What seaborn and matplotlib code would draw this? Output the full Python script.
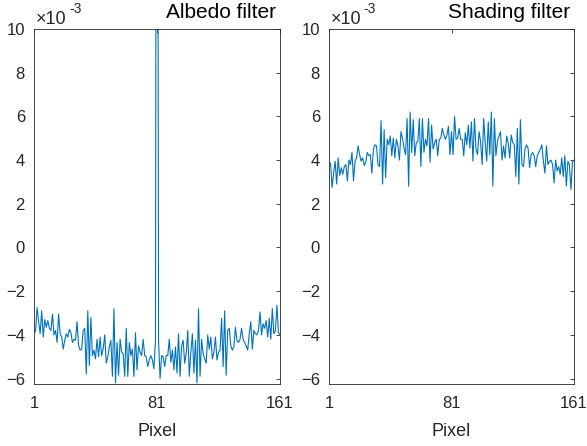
import numpy as np
import pandas as pd
import matplotlib
matplotlib.use("Agg")
import matplotlib.pyplot as plt
import seaborn as sns

# pixel index and filter values (x 1e-3)
pixel = np.arange(1, 162)

shading = [3.9, 3.85, 2.75, 3.4, 3.95, 2.9, 4.1, 3.3, 3.65, 3.35,
           3.7, 3.8, 3.05, 4.0, 3.8, 4.35, 3.05, 3.95, 4.1, 4.65,
           4.25, 3.95, 4.1, 3.75, 3.9, 4.35, 4.2, 4.25, 3.4, 4.5,
           4.7, 4.65, 3.8, 3.7, 5.8, 2.9, 5.4, 3.2, 4.95, 4.7,
           5.1, 4.2, 5.0, 4.1, 4.95, 4.65, 4.0, 5.3, 5.0, 4.55,
           4.25, 5.9, 2.8, 6.2, 4.35, 5.85, 4.2, 4.8, 4.85, 5.9,
           3.7, 5.9, 4.35, 4.95, 4.65, 5.9, 3.9, 5.6, 4.5, 4.8,
           4.95, 4.2, 4.95, 5.0, 5.45, 5.15, 4.95, 5.15, 5.55, 4.25,
           5.3, 4.25, 6.0, 4.95, 5.0, 5.45, 4.95, 4.95, 4.2, 5.25,
           4.7, 5.6, 4.55, 5.75, 3.95, 5.9, 4.5, 4.25, 5.3, 4.85,
           3.8, 5.9, 4.8, 3.95, 5.75, 4.25, 6.2, 2.8, 5.9, 4.2,
           4.85, 5.1, 5.3, 4.0, 4.65, 4.1, 5.1, 4.8, 4.1, 5.15,
           4.8, 4.7, 3.25, 5.45, 2.9, 5.85, 3.8, 3.7, 4.5, 4.7,
           4.55, 3.65, 4.25, 4.35, 4.2, 3.7, 4.2, 4.35, 4.5, 4.7,
           3.95, 3.4, 4.65, 3.8, 3.95, 4.0, 3.8, 2.95, 4.0, 3.5,
           3.7, 3.35, 4.1, 3.25, 4.2, 2.8, 3.95, 3.8, 2.65, 3.9, 4.0]

albedo = [-3.9, -3.85, -2.75, -3.4, -3.95, -2.9, -4.1, -3.3, -3.65, -3.35,
          -3.7, -3.8, -3.05, -4.0, -3.8, -4.35, -3.05, -3.95, -4.1, -4.65,
          -4.25, -3.95, -4.1, -3.75, -3.9, -4.35, -4.2, -4.25, -3.4, -4.5,
          -4.7, -4.65, -3.8, -3.7, -5.8, -2.9, -5.4, -3.2, -4.95, -4.7,
          -5.1, -4.2, -5.0, -4.1, -4.95, -4.65, -4.0, -5.3, -5.0, -4.55,
          -4.25, -5.9, -2.8, -6.2, -4.35, -5.85, -4.2, -4.8, -4.85, -5.9,
          -3.7, -5.9, -4.35, -4.95, -4.65, -5.9, -3.9, -5.6, -4.5, -4.8,
          -4.95, -4.2, -4.95, -5.0, -5.45, -5.15, -4.95, -5.15, -5.55, -4.25,
          50.0, -4.25, -6.0, -4.95, -5.0, -5.45, -4.95, -4.95, -4.2, -5.25,
          -4.7, -5.6, -4.55, -5.75, -3.95, -5.9, -4.5, -4.25, -5.3, -4.85,
          -3.8, -5.9, -4.8, -3.95, -5.75, -4.25, -6.2, -2.8, -5.9, -4.2,
          -4.85, -5.1, -5.3, -4.0, -4.65, -4.1, -5.1, -4.8, -4.1, -5.15,
          -4.8, -4.7, -3.25, -5.45, -2.9, -5.85, -3.8, -3.7, -4.5, -4.7,
          -4.55, -3.65, -4.25, -4.35, -4.2, -3.7, -4.2, -4.35, -4.5, -4.7,
          -3.95, -3.4, -4.65, -3.8, -3.95, -4.0, -3.8, -2.95, -4.0, -3.5,
          -3.7, -3.35, -4.1, -3.25, -4.2, -2.8, -3.95, -3.8, -2.65, -3.9, -4.0]

titles = ["Albedo filter", "Shading filter"]

sns.set_style("white")
plt.rcParams['font.family'] = ['Liberation Sans', 'DejaVu Sans']

fig = plt.figure(figsize=(5.87, 4.46), dpi=100)
ax1 = fig.add_axes([34/587, 62/446, 246/587, 355/446])
ax2 = fig.add_axes([329/587, 62/446, 245/587, 355/446])

txt = "#262626"
for ax, vals, name in zip([ax1, ax2], [albedo, shading], titles):
    df = pd.DataFrame({"Pixel": pixel, "valor": vals})
    sns.lineplot(data=df, x="Pixel", y="valor", ax=ax, color="#0072BD", linewidth=0.8)
    ax.set_xlim(1, 161)
    ax.set_ylim(-6.25, 10)
    ax.set_xticks([1, 81, 161])
    ax.set_yticks(range(-6, 11, 2))
    ax.tick_params(direction="in", length=3, width=0.6, top=True, right=True,
                   labelsize=12, colors=txt)
    ax.tick_params(axis="y", pad=6.5)
    ax.tick_params(axis="x", pad=9)
    ax.set_xlabel("Pixel", fontsize=13, color=txt, labelpad=8)
    ax.set_ylabel("")
    for s in ax.spines.values():
        s.set_visible(True)
        s.set_color(txt)
        s.set_linewidth(0.6)
    ax.text(0.985, 1.03, name, transform=ax.transAxes, ha="right", va="baseline",
            fontsize=15, color="black")
    # exponent label like matlab
    ax.text(0.008, 1.014, "×10", transform=ax.transAxes, ha="left", va="baseline",
            fontsize=13, color=txt)
    ax.text(0.142, 1.045, "-3", transform=ax.transAxes, ha="left", va="baseline",
            fontsize=10, color=txt)

fig.savefig("out.png", dpi=100)
